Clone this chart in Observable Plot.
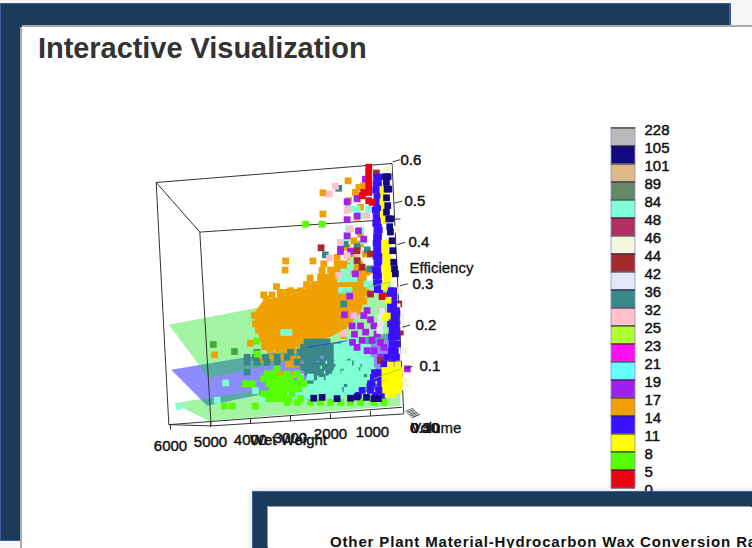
<!DOCTYPE html>
<html><head><meta charset="utf-8">
<script src="https://cdn.jsdelivr.net/npm/d3@7"></script>
<script src="https://cdn.jsdelivr.net/npm/@observablehq/plot@0.6"></script>
<style>
html,body{margin:0;padding:0;width:752px;height:548px;overflow:hidden;background:#f6f6f6;font-family:"Liberation Sans",Arial,sans-serif}
.abs{position:absolute}
#frame1{left:0;top:3px;width:728px;height:536px;background:#1b3a5c;border:1.5px solid #3a5f9a;border-right-width:2px}
#white1{left:22px;top:27px;width:730px;height:521px;background:#fff;box-shadow:0 -2px 0 #aaa,-2px 0 0 #aaa}
#title{left:38px;top:32px;font-size:29px;font-weight:bold;color:#333;letter-spacing:-.05px}
#frame2{left:252px;top:491px;width:510px;height:70px;background:#1b3a5c;border-top:1.5px solid #3a5f9a;border-left:1.5px solid #3a5f9a;box-shadow:0 0 7px rgba(0,0,0,.15)}
#white2{left:268px;top:507px;width:484px;height:41px;background:#fff;overflow:hidden;box-shadow:-1px -1px 0 #999}
#sub{position:absolute;left:62px;top:26px;white-space:nowrap;font-size:15px;font-weight:bold;letter-spacing:.85px;color:#111}
svg{position:absolute;background:transparent}
</style></head><body>
<div class="abs" id="frame1"></div><div class="abs" id="white1"></div>
<div class="abs" id="title">Interactive Visualization</div>
<div id="chart"></div><div id="legend"></div>
<div class="abs" id="frame2"></div>
<div class="abs" id="white2"><div id="sub">Other Plant Material-Hydrocarbon Wax Conversion Ra</div></div>
<script>
// legend
const legendLabels=["228","105","101","89","84","48","46","44","42","36","32","25","23","21","19","17","14","11","8","5","0"];
const legendColors=["#b9b9b9","#140a80","#deb887","#668866","#7fffd4","#b03060","#f5f5dc","#a52a2a","#e6e6fa","#388888","#ffc0cb","#adff2f","#ff10f0","#66ffff","#a020f0","#f0a000","#3a10ff","#ffff00","#55ff00","#ee0010"];
const colorOf=l=>legendColors[legendLabels.indexOf(l)];
// axes
const wetTicks=[6000,5000,4000,3000,2000,1000];
const wetTickEff=[-.039,-.033,-.025,-.018,-.012,-.006];
const wetLabelW=[6000,5000,4000,3000,2000,950];
const wetLabelEff=[-.09,-.082,-.077,-.072,-.063,-.058];
const effTicks=[.6,.5,.4,.3,.2,.1];
const effAxisW=[450,400,325,262,200,138];
const effLabelW=[250,150,50,-50,-125,-225];
const volLabels=["0.50","0.40","0.30","0.20","0.10","0"];
const volLabelW=[25,15,5,-5,-15,0];
const volFanW=[125,100,75,50,25,0,-25,-50];
const volFanE=[-.007,-.01,-.012,-.015,-.017,-.019,-.022,-.022];
// box edges: wet weight, efficiency (projected)
const boxEdges=[[6358,.547,461,.593],[6358,.547,5267,.427],[5267,.427,252,.459],[6358,.547,6042,-.039],[5267,.427,4984,-.042],[6042,-.039,4984,-.042],[4984,-.042,169,-.013],[6042,-.039,211,.003],[461,.593,169,-.013]];
// fitted planes
const planeBlue=[[5984,.094],[419,.184],[211,.104],[5084,.007]];
const planeTop=[[6042,.203],[502,.306],[211,.173],[5042,.074]];
const planeLow=[[5917,.013],[252,.096],[252,.007],[5042,-.03]];
const planeCrossGreen=[[1835,.277],[502,.306]];
const planeCrossBlue=[[2585,.148],[1585,.164]];
const planeCrossLow=[[917,.072],[252,.096]];
// dense cores: wet weight, efficiency low, efficiency high
const orangeCore=[[3875,.205,.233],[3667,.140,.261],[3250,.140,.269],[2835,.148,.277],[2420,.156,.302],[2000,.172,.326],[1585,.193,.350],[1250,.229,.366],[1085,.277,.334]];
const aquaCore=[[2600,.04,.07],[2300,.03,.10],[2000,.03,.13],[1700,.03,.16],[1400,.03,.18],[1100,.04,.15],[900,.05,.11]];
// scatter rows: [efficiency,[wet weights]]
const behindPlane=[[.155,[4930]],[.138,[4400]],[.103,[2250]]];
const group17=[[.551,[1560]],[.539,[1170]],[.535,[1290]],[.523,[1380]],[.522,[2190]],[.515,[1210]],[.507,[1335]],[.503,[1545]],[.487,[1250]],[.483,[1545]],[.471,[2190]],[.463,[1335]],[.422,[1250]],[.406,[1420]],[.398,[1250]],[.390,[1585]],[.382,[1420]],[.374,[1130]],[.366,[1835,1500,1380]],[.357,[3120,2440]],[.350,[2170,1835,1750,1650]],[.335,[3135,2000,1835,1000]],[.334,[2210]],[.330,[1960,1085,1170]],[.318,[2250,2085]],[.316,[2510]],[.300,[2600,2420]],[.295,[3350]],[.293,[2420]],[.285,[3000,2750]],[.281,[3250,3085,2875,2670,1250,1100]],[.275,[3670,3460,3250]],[.265,[3600]],[.26,[1170,1250,1335]],[.24,[1335]],[.225,[3900]],[.205,[3875]],[.19,[3800]],[.177,[1670]],[.17,[3700]],[.158,[4000]],[.15,[3650]],[.142,[3500,3300,3100,2950,2750,2580]],[.130,[4900]],[.126,[2500]],[.124,[3170,2750]],[.123,[3460]],[.120,[3710,2960]],[.108,[3040,2875]],[.082,[3250,2900]]];
const group36=[[.533,[1795]],[.398,[1630]],[.372,[2130]],[.392,[1335]],[.384,[1080]],[.338,[1020]],[.253,[1670]],[.161,[2585,2420,2250,2085]],[.148,[2670,2500,2335,2170,2000]],[.136,[3840,3000,2750,2585,2420,2250,2085,1920]],[.124,[4085,3875,3625,3335,3085,2670,2500,2335,2085,1920,1670,1420]],[.112,[4085,3835,3585,3335,2835,2585,2420,2210,2000,1500]],[.100,[2670,2500,2335,2125,1960,1300]],[.088,[4085,2585,2420,2250,2045,1750]],[.076,[2420,2210,1150]],[.064,[2500,2335,1085]],[.048,[2750,1610,1085]],[.040,[1250,1420]],[.052,[1625,835]]];
const group84=[[.531,[835]],[.483,[1500,1335,1050]],[.467,[1250]],[.435,[1545]],[.414,[1585]],[.430,[1250]],[.406,[1170]],[.358,[1420]],[.342,[1500]],[.330,[1670,1585]],[.314,[1750,1585,1420]],[.301,[1085,915]],[.286,[1720,1540]],[.184,[3170,3040]],[.148,[1835,1585,1335,1085]],[.136,[1835,1670,1500,1335]],[.124,[1835,1670,1420,1170]],[.116,[1750,1250,1000]],[.108,[1750,1545,1335,1085]],[.092,[1835,1585,1375,1170,960]],[.084,[1650,1250,1000]],[.076,[2750,2500,1960,1750,1500,1250]],[.068,[2250,1900,1580,1100]],[.060,[2670,2335,2085,1750,1420,1210]],[.062,[4620]],[.052,[2500,2250,1900,1500,1200]],[.044,[3000,2750,2420,2125,1835,1585,1335]],[.036,[2900,2500,2250,1900,1500,1250]],[.028,[3085,2835,2585,2000,1750]],[.043,[3875]],[.020,[3670,4830]],[.005,[5790]]];
const group8=[[.446,[2625,2210]],[.163,[3850]],[.132,[3835]],[.096,[3335]],[.084,[3585,3420,3085,2835]],[.072,[3670,3500,3335,3170,3000,2750]],[.060,[4125,3960,3540,3375,3210,3045,2875,2670]],[.048,[3460,3295,3125,2960,2795]],[.036,[3670,3500,3335,3170,2960]],[.024,[3540,3375,3210,3045,2750]],[.015,[3085,2835,2500,2250,2000,1750,1500,1250,915,665]],[.006,[4650,4460,3880]]];
const group19=[[.555,[1130]],[.508,[1335]],[.5,[1585]],[.466,[1335]],[.457,[1585]],[.43,[1300]],[.418,[1585]],[.41,[1170]],[.386,[1750]],[.38,[1500,1750]],[.326,[1375]],[.272,[1520]],[.227,[1650]],[.237,[1085]],[.225,[1170,1420]],[.215,[1000]],[.2,[1460,1250,915]],[.185,[1120]],[.18,[1400,835]],[.165,[1210,960]],[.16,[1450,750]],[.148,[1335,665]],[.14,[1085,915]],[.124,[750]],[.096,[80]]];
const group14=[[.56,[850,790]],[.544,[860,800]],[.528,[870,790]],[.512,[840,780]],[.496,[850,770]],[.48,[880,810]],[.464,[860,790]],[.448,[870,800]],[.432,[840,780]],[.416,[850,800]],[.4,[860,790]],[.384,[850,810]],[.368,[860,780]],[.352,[840,790]],[.336,[880,810]],[.32,[860,800]],[.304,[850,790]],[.288,[830,770]],[.285,[500,420]],[.269,[420,500]],[.253,[420,500]],[.237,[420,500,350]],[.23,[480,400,340]],[.221,[420,500,350]],[.205,[420,500,460,350]],[.189,[460,420,340]],[.173,[420,340,480]],[.156,[460,340,400]],[.140,[420,380,480]],[.124,[420,585,350]],[.108,[665,460]],[.096,[625]],[.087,[900,770,650]],[.075,[930,790,660]],[.060,[750,960,1000,640]],[.044,[795,1000,1210,650]],[.032,[875,1300,700]]];
const group105=[[.561,[627,560]],[.547,[602]],[.531,[586,540]],[.51,[600]],[.491,[569]],[.475,[602]],[.459,[544,490]],[.440,[519]],[.427,[502]],[.406,[461]],[.382,[444]],[.354,[419]],[.338,[402]],[.326,[377]],[.025,[2420,1500]],[.027,[2210,1100]],[.024,[1835,800]],[.028,[1335]],[.024,[915]]];
const group11=[[.53,[690]],[.515,[670]],[.50,[690]],[.485,[650]],[.47,[680]],[.455,[660]],[.40,[650,540]],[.385,[640]],[.37,[620,550]],[.355,[600,520]],[.34,[650,560]],[.325,[620,500]],[.31,[580]],[.295,[650]],[.262,[560]],[.224,[580]],[.220,[625]],[.105,[500,320]],[.092,[640,520,400,280]],[.076,[640,540,375,290]],[.06,[640,520,400,280]],[.045,[620,500,380,300]],[.034,[560,440]]];
const group42=[[.237,[710]],[.221,[735]],[.205,[750]],[.189,[770]],[.104,[625]],[.100,[625]],[.495,[835]]];
const group46=[[.577,[590]],[.580,[545]],[.434,[335]],[.285,[290]],[.246,[335]],[.221,[250]],[.197,[210]],[.124,[290]],[.140,[170]],[.068,[165]],[.060,[125]],[.052,[210]]];
const group44=[[.570,[852]],[.389,[2235]],[.382,[1335]],[.374,[1000]],[.358,[1335]],[.342,[1210]],[.277,[1000]],[.273,[627]],[.253,[294]],[.237,[710]],[.213,[336]],[.185,[253]],[.132,[419]],[.116,[752]]];
const group32=[[.538,[1877]],[.519,[2027]],[.479,[1585]],[.467,[1085]],[.435,[1502]],[.402,[1752]],[.370,[1585]],[.366,[1335]],[.364,[2027]],[.322,[1794]],[.225,[1419]],[.181,[1669]]];
const group5=[[.584,[1044]],[.572,[1044]],[.560,[1044]],[.547,[1044]],[.535,[1044]],[.523,[1044,1170]],[.515,[1210]],[.503,[1044]],[.499,[960]],[.271,[711]]];

const pts=rows=>rows.flatMap(([e,ws])=>ws.map(w=>({w,e})));
const squares=(rows,label)=>Plot.dot(pts(rows),{x:"w",y:"e",r:3.8,symbol:"square",fill:colorOf(label)});
const plane=(p,fill,op)=>Plot.line([...p,p[0]],{x:d=>d[0],y:d=>d[1],fill,fillOpacity:op,stroke:"none"});
const cross=(p,c)=>Plot.line(p,{x:d=>d[0],y:d=>d[1],stroke:c,strokeWidth:1,strokeOpacity:.7});
const ink="#111";
const chart=Plot.plot({
  width:752,height:548,margin:0,style:{background:"transparent",fontFamily:"Liberation Sans",fontSize:"15px",color:ink},
  x:{domain:[10250,-8550],axis:null},y:{domain:[-.3387,.9874],axis:null},
  marks:[
    squares(behindPlane,"89"),
    plane(planeBlue,"#0000ff",.45),
    plane(planeTop,"#00e000",.37),
    plane(planeLow,"#00e000",.36),
    Plot.link(boxEdges,{x1:d=>d[0],y1:d=>d[1],x2:d=>d[2],y2:d=>d[3],stroke:"#333",strokeWidth:1}),
    Plot.areaY(orangeCore,{x:d=>d[0],y1:d=>d[1],y2:d=>d[2],fill:colorOf("17")}),
    squares(group17,"17"),
    Plot.areaY(aquaCore,{x:d=>d[0],y1:d=>d[1],y2:d=>d[2],fill:colorOf("84")}),
    squares(group36,"36"),
    squares(group84,"84"),
    squares(group8,"8"),
    squares(group19,"19"),
    squares(group32,"32"),
    squares(group44,"44"),
    squares(group46,"46"),
    squares(group42,"42"),
    squares(group14,"14"),
    squares(group11,"11"),
    squares(group105,"105"),
    squares(group5,"5"),
    cross(planeCrossGreen,"#7fd040"),
    cross(planeCrossBlue,"#3030e0"),
    cross(planeCrossLow,"#7fd040"),
    Plot.link(wetTicks,{x1:d=>d,x2:d=>d,y1:(d,i)=>wetTickEff[i],y2:(d,i)=>wetTickEff[i]-.012,stroke:"#333"}),
    Plot.text(wetTicks,{x:(d,i)=>wetLabelW[i],y:(d,i)=>wetLabelEff[i],text:d=>String(d),fill:ink,stroke:ink,strokeWidth:.45,fontSize:15}),
    Plot.text(["Wet Weight"],{x:3050,y:-.077,text:d=>d,fill:ink,stroke:ink,strokeWidth:.45,fontSize:15}),
    Plot.link(effTicks,{x1:(d,i)=>effAxisW[i],x2:(d,i)=>effAxisW[i]-190,y1:d=>d-.003,y2:d=>d+.002,stroke:"#333"}),
    Plot.text(effTicks,{x:(d,i)=>effLabelW[i],y:d=>d+.002,text:d=>d.toFixed(1),textAnchor:"start",fill:ink,stroke:ink,strokeWidth:.45,fontSize:15}),
    Plot.text(["Efficiency"],{x:25,y:.339,text:d=>d,textAnchor:"start",fill:ink,stroke:ink,strokeWidth:.3,fontSize:15}),
    Plot.link(volFanW,{x1:d=>d,x2:d=>d-190,y1:(d,i)=>volFanE[i],y2:(d,i)=>volFanE[i]+.008,stroke:"#444",strokeWidth:.8}),
    Plot.text(volLabels,{x:(d,i)=>volLabelW[i],y:-.048,text:d=>d,textAnchor:"start",fill:ink,fillOpacity:.75,fontSize:15}),
    Plot.text(["Volume"],{x:-20,y:-.048,text:d=>d,textAnchor:"start",fill:ink,stroke:ink,strokeWidth:.3,fontSize:15})
  ]
});
chart.style.left="0";chart.style.top="0";
document.getElementById("chart").append(chart);

const legendRows=legendColors.map((c,i)=>({i,c}));
const legend=Plot.plot({
  width:120,height:400,marginLeft:11,marginRight:85,marginTop:17.5,marginBottom:22.5,
  style:{background:"transparent",fontFamily:"Liberation Sans",fontSize:"15px",color:ink},
  x:{domain:[0,1],axis:null},y:{domain:[20,0],axis:null},
  marks:[
    Plot.rect(legendRows,{x1:0,x2:1,y1:d=>d.i,y2:d=>d.i+1,fill:d=>d.c,stroke:"#8f8fc8",strokeWidth:.8}),
    Plot.tickY(legendLabels,{y:(d,i)=>i,x1:1,x2:1.33,stroke:"#222"}),
    Plot.text(legendLabels,{x:1,y:(d,i)=>i,dx:9,dy:2.5,text:d=>d,textAnchor:"start",fill:ink,stroke:ink,strokeWidth:.45,fontSize:15})
  ]
});
legend.style.left="600px";legend.style.top="110px";
document.getElementById("legend").append(legend);
</script>
</body></html>
